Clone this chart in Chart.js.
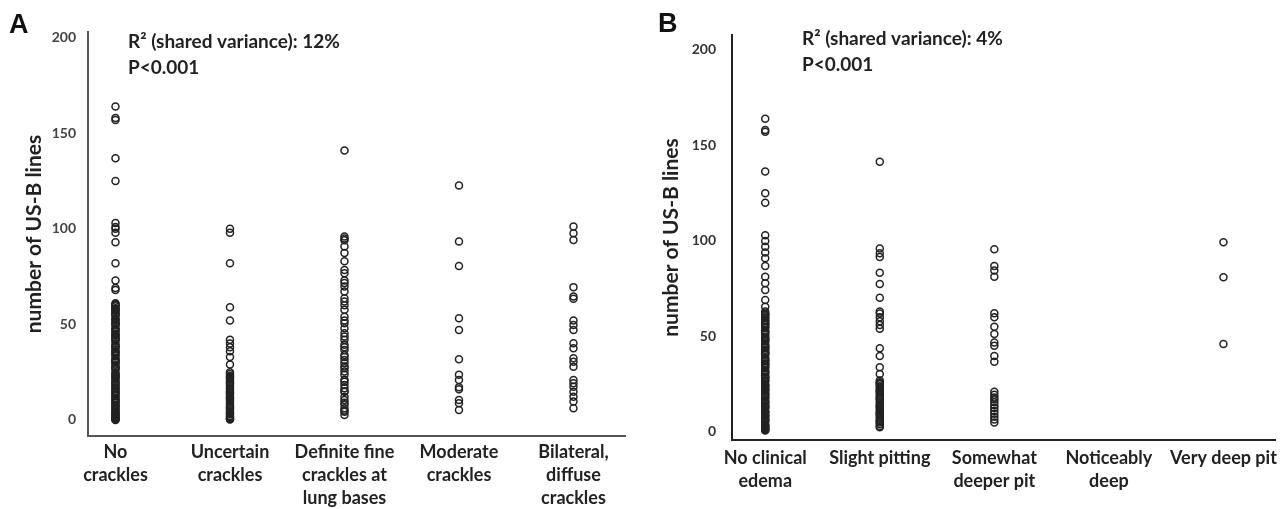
<!DOCTYPE html>
<html>
<head>
<meta charset="utf-8">
<script src="https://cdn.jsdelivr.net/npm/chart.js@4.4.1/dist/chart.umd.min.js"></script>
<style>
    html, body { margin: 0; padding: 0; background: #fff; }
    #wrap { position: relative; width: 1285px; height: 509px; overflow: hidden; }
    .panel { position: absolute; top: 0; height: 509px; }
    #panel-a { left: 0; width: 640px; }
    #panel-b { left: 640px; width: 645px; }
</style>
</head>
<body>
<div id="wrap">
    <div class="panel" id="panel-a"><canvas id="chart-a" width="640" height="509"></canvas></div>
    <div class="panel" id="panel-b"><canvas id="chart-b" width="645" height="509"></canvas></div>
</div>
<script>
// Panel A: lung crackles
const crackleLabels = [
    ["No", "crackles"],
    ["Uncertain", "crackles"],
    ["Definite fine", "crackles at", "lung bases"],
    ["Moderate", "crackles"],
    ["Bilateral,", "diffuse", "crackles"]
];
const noCrackles = [164, 158, 157, 137, 125, 103, 101, 100, 98, 93, 82, 73, 69, 68,
    61, 60, 59.5, 58, 57, 56, 55, 54.5, 53, 52, 51, 50, 49.5, 48, 47, 46, 45, 44, 43, 42,
    41.5, 40, 39, 38, 37, 36, 35, 34, 33.5, 32, 31, 30, 29, 28, 27, 26.5, 25, 24, 23, 22,
    21, 20, 19.5, 18, 17, 16, 15, 14, 13, 12.5, 11, 10, 9, 8, 7, 6, 5.5, 4, 3, 2, 1, 0,
    0.5, 2.5, 5, 9.5, 14.5, 22.5, 30.5, 44.5, 50.5, 57.5, 60.5, 58.5, 55.5, 52.5, 47.5,
    42.5, 38.5, 35.5, 31.5, 27.5, 23.5, 18.5, 16.5, 11.5, 7.5, 3.5, 1.5, 0.2];
const uncertainCrackles = [100, 98, 82, 59, 52, 42, 40, 38, 36, 33, 29, 25, 24, 23, 22,
    21, 20, 19, 18, 17, 16, 15, 14, 13, 12, 11, 10, 9, 8, 7, 6, 5, 4, 3, 2, 1, 0.5, 22.5,
    14.5, 6.5, 19.5, 11.5, 3.5, 1.5, 0.2];
const definiteCrackles = [141, 96, 94, 90.7, 87.3, 83, 78.5, 76.8, 71.6, 69.8, 67.2, 63.7,
    62, 57.6, 54, 50.6, 45.4, 43.6, 41.9, 39.3, 36.6, 34, 31.4, 29.7, 28, 25.3, 23.6, 21,
    18.3, 16.6, 14.8, 12.2, 10.5, 7.9, 6.1, 4.3, 2.6, 95, 73, 60, 52, 48, 38, 33, 27, 20,
    15, 9, 5];
const moderateCrackles = [122.7, 93.4, 80.6, 53.2, 47.1, 31.8, 23.6, 20.9, 17.1, 16.1,
    10.5, 8.7, 5.2];
const bilateralCrackles = [101.2, 97.7, 94.2, 69.5, 64.6, 63.4, 52, 49.7, 47.1, 40.1,
    37.5, 32.3, 30.5, 27.9, 20.9, 19.2, 17.4, 14.8, 12.2, 9.6, 6.1];

// Panel B: peripheral edema
const edemaLabels = [
    ["No clinical", "edema"],
    "Slight pitting",
    ["Somewhat", "deeper pit"],
    ["Noticeably", "deep"],
    "Very deep pit"
];
const noEdema = [163.9, 158.1, 157.2, 136.3, 125, 120, 103, 100, 97, 94, 91, 86.9, 81.3,
    77.9, 74.3, 69.1, 65.6, 63, 62, 61, 60, 59.5, 58, 57, 56, 55, 54.5, 53, 52, 51, 50,
    49, 48, 47.5, 46, 45, 44, 43, 42, 41, 40.5, 39, 38, 37, 36, 35, 34, 33.5, 32, 31, 30,
    29, 28, 27, 26.5, 25, 24, 23, 22, 21, 20, 19.5, 18, 17, 16, 15, 14, 13, 12.5, 11, 10,
    9, 8, 7, 6, 5.5, 4, 3, 2, 1, 1.5, 3.5, 8.5, 15.5, 24.5, 35.5, 48.5, 58.5, 61.5, 56.5,
    52.5, 44.5, 41.5, 37.5, 31.5, 28.5, 22.5, 18.5, 13.5, 10.5, 6.5, 2.5, 0.8];
const slightPitting = [141.5, 96, 93.6, 91.6, 83.4, 77.5, 70.3, 63, 62, 60, 58, 56, 54,
    43.8, 39.8, 33.9, 30.4, 27, 26, 25, 24, 23, 22, 21, 20, 19, 18, 17, 16, 15, 14, 13,
    12, 11, 10, 9, 8, 7, 6, 5, 4, 3, 25.5, 21.5, 17.5, 13.5, 9.5, 5.5, 2.5];
const somewhatDeeper = [95.6, 86.9, 84.5, 81.3, 62.1, 60, 55.1, 51.3, 46.8, 45.2, 39.8,
    36.8, 21, 19.5, 18, 17, 15.5, 14, 12.5, 11, 9.5, 8, 6.5, 5];
const noticeablyDeep = [];
const veryDeepPit = [99.3, 81, 46.1];

const yTicks = [0, 50, 100, 150, 200];
const FONT = "Lato, 'Open Sans', sans-serif";

function toPoints(groups) {
    const pts = [];
    groups.forEach(function (vals, i) {
        vals.forEach(function (v) { pts.push({ x: i + 1, y: v }); });
    });
    return pts;
}

// draws the panel letter and the R2 / P note
const notesPlugin = {
    id: "notes",
    afterDraw(chart, args, opts) {
        const ctx = chart.ctx;
        ctx.save();
        ctx.fillStyle = "#111";
        ctx.textBaseline = "alphabetic";
        ctx.font = "bold 27px 'Liberation Sans', Arial, sans-serif";
        ctx.fillText(opts.letter, opts.letterX, opts.letterY);
        ctx.font = "bold 19px " + FONT;
        ctx.fillStyle = "#222";
        opts.lines.forEach(function (t, i) {
            ctx.fillText(t, opts.x, opts.y + i * 26);
        });
        ctx.restore();
    }
};

function makeChart(id, cfg) {
    const ctx = document.getElementById(id).getContext("2d");
    return new Chart(ctx, {
        type: "scatter",
        data: {
            datasets: [{
                data: toPoints(cfg.groups),
                pointStyle: "circle",
                pointRadius: 3.5,
                pointBorderWidth: 1.5,
                borderColor: "#222",
                backgroundColor: "rgba(0,0,0,0)"
            }]
        },
        options: {
            responsive: false,
            animation: false,
            events: [],
            layout: { padding: cfg.padding },
            plugins: {
                legend: { display: false },
                tooltip: { enabled: false },
                notes: cfg.notes
            },
            scales: {
                x: {
                    type: "linear",
                    min: cfg.xMin,
                    max: cfg.xMax,
                    grid: { display: false, drawTicks: false },
                    border: { display: true, color: cfg.axisColor, width: 2 },
                    afterBuildTicks: function (s) {
                        s.ticks = cfg.labels.map(function (l, i) { return { value: i + 1 }; });
                    },
                    afterFit: function (s) { s.height = cfg.xHeight; },
                    ticks: {
                        autoSkip: false,
                        maxRotation: 0,
                        padding: cfg.xTickPad,
                        color: "#222",
                        font: { family: FONT, size: 18, weight: "bold", lineHeight: 1.28 },
                        callback: function (v) { return cfg.labels[v - 1]; }
                    }
                },
                y: {
                    min: cfg.yMin,
                    max: cfg.yMax,
                    grid: { display: false, drawTicks: false },
                    border: { display: true, color: cfg.axisColor, width: 2 },
                    afterBuildTicks: function (s) {
                        s.ticks = yTicks.map(function (v) { return { value: v }; });
                    },
                    afterFit: function (s) { s.width = cfg.yWidth; },
                    ticks: {
                        padding: cfg.yTickPad,
                        color: cfg.tickColor,
                        font: { family: FONT, size: 14, weight: "bold" }
                    },
                    title: {
                        display: true,
                        text: "number of US-B lines",
                        color: "#222",
                        font: { family: FONT, size: 21, weight: "bold" },
                        padding: { top: cfg.titlePad, bottom: 0 }
                    }
                }
            }
        },
        plugins: [notesPlugin]
    });
}

makeChart("chart-a", {
    groups: [noCrackles, uncertainCrackles, definiteCrackles, moderateCrackles, bilateralCrackles],
    labels: crackleLabels,
    xMin: 0.76, xMax: 5.45,
    yMin: -8.4, yMax: 203,
    padding: { left: 0, right: 15, top: 32, bottom: 0 },
    xHeight: 73, yWidth: 88,
    xTickPad: 5, yTickPad: 12, titlePad: 22,
    axisColor: "#555", tickColor: "#444",
    notes: {
        letter: "A", letterX: 9, letterY: 33,
        lines: ["R\u00b2 (shared variance): 12%", "P<0.001"], x: 128, y: 48
    }
});

makeChart("chart-b", {
    groups: [noEdema, slightPitting, somewhatDeeper, noticeablyDeep, veryDeepPit],
    labels: edemaLabels,
    xMin: 0.71, xMax: 5.45,
    yMin: -4.2, yMax: 207.8,
    padding: { left: 0, right: 10, top: 35, bottom: 0 },
    xHeight: 69, yWidth: 92,
    xTickPad: 7, yTickPad: 16, titlePad: 19,
    axisColor: "#222", tickColor: "#333",
    notes: {
        letter: "B", letterX: 18, letterY: 32,
        lines: ["R\u00b2 (shared variance): 4%", "P<0.001"], x: 162, y: 45
    }
});
</script>
</body>
</html>
